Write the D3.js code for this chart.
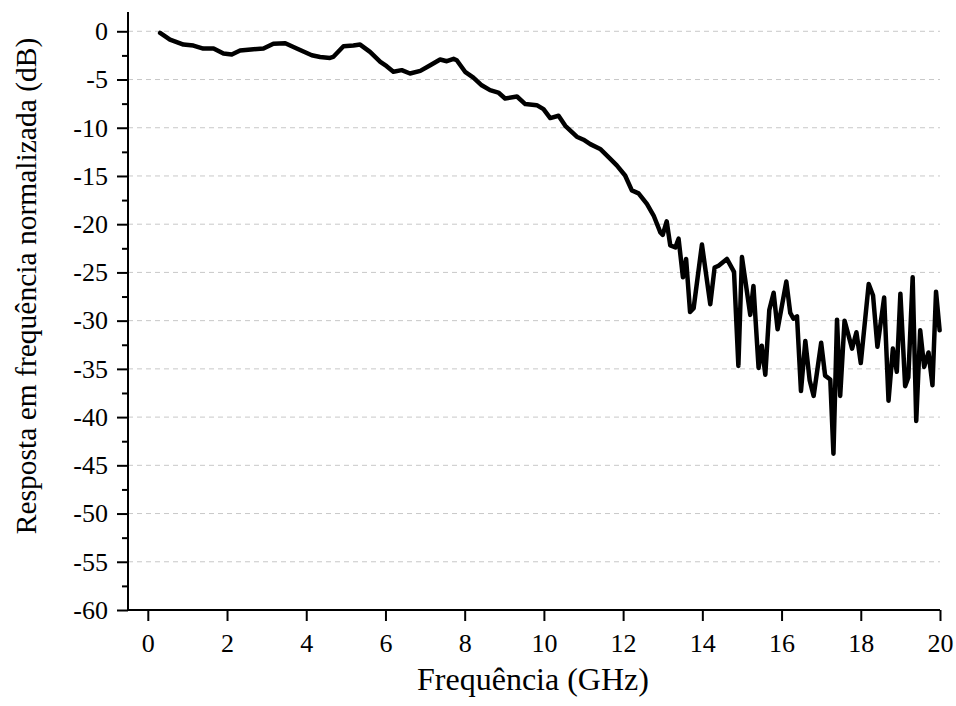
<!DOCTYPE html>
<html>
<head>
<meta charset="utf-8">
<script src="https://cdn.jsdelivr.net/npm/d3@7"></script>
<style>
  body { margin: 0; background: #fff; }
  svg text { font-family: "Liberation Serif", "Times New Roman", serif; fill: #000; }
</style>
</head>
<body>
<svg id="chart" width="956" height="706"></svg>
<script>
// frequency (GHz) and normalized response (dB)
var freq = [0.31, 0.56, 0.90, 1.15, 1.40, 1.66, 1.91, 2.12, 2.33, 2.67, 2.92, 3.17, 3.47, 3.76,
  4.14, 4.35, 4.60, 4.68, 4.94, 5.19, 5.36, 5.61, 5.87, 6.03, 6.20, 6.41, 6.62, 6.88, 7.13,
  7.38, 7.55, 7.72, 7.80, 8.01, 8.22, 8.43, 8.64, 8.85, 9.02, 9.32, 9.53, 9.82, 9.99, 10.16,
  10.37, 10.54, 10.83, 11.00, 11.17, 11.42, 11.67, 11.84, 12.05, 12.22, 12.39, 12.60, 12.77,
  12.94, 13.00, 13.10, 13.19, 13.32, 13.40, 13.51, 13.59, 13.69, 13.78, 13.99, 14.20, 14.31,
  14.41, 14.62, 14.80, 14.91, 15.00, 15.21, 15.29, 15.42, 15.50, 15.59, 15.69, 15.80, 15.90,
  16.12, 16.22, 16.30, 16.39, 16.49, 16.60, 16.71, 16.81, 17.00, 17.10, 17.23, 17.31, 17.40,
  17.48, 17.59, 17.78, 17.89, 18.00, 18.20, 18.31, 18.42, 18.59, 18.70, 18.81, 18.91, 19.00,
  19.12, 19.20, 19.31, 19.40, 19.50, 19.60, 19.71, 19.81, 19.90, 19.99];

var response = [-0.17, -0.86, -1.38, -1.48, -1.79, -1.79, -2.31, -2.41, -2.0, -1.86, -1.79, -1.3, -1.24, -1.79,
  -2.48, -2.66, -2.76, -2.66, -1.55, -1.48, -1.38, -2.14, -3.17, -3.62, -4.2, -4.03, -4.38, -4.1, -3.52,
  -2.93, -3.1, -2.86, -3.0, -4.2, -4.8, -5.6, -6.1, -6.35, -6.97, -6.76, -7.55, -7.66, -8.07, -9.0,
  -8.76, -9.8, -10.93, -11.24, -11.7, -12.2, -13.2, -13.9, -14.95, -16.5, -16.8, -17.9, -19.1,
  -20.85, -21.1, -19.7, -22.2, -22.4, -21.5, -25.5, -23.6, -29.1, -28.7, -22.1, -28.3, -24.5,
  -24.3, -23.6, -24.95, -34.7, -23.4, -29.4, -26.4, -34.9, -32.6, -35.6, -28.9, -27.1, -30.9,
  -25.95, -29.2, -29.8, -29.55, -37.3, -32.1, -36.2, -37.8, -32.3, -35.7, -36.1, -43.8, -29.9,
  -37.8, -30.0, -32.9, -31.2, -34.4, -26.2, -27.4, -32.7, -27.6, -38.3, -32.9, -35.3, -27.2,
  -36.8, -35.9, -25.5, -40.4, -31.0, -34.8, -33.3, -36.7, -27.0, -31.0];

var xTicks = [0, 2, 4, 6, 8, 10, 12, 14, 16, 18, 20];
var yTicks = [0, -5, -10, -15, -20, -25, -30, -35, -40, -45, -50, -55, -60];
var yMinorTicks = [-2.5, -7.5, -12.5, -17.5, -22.5, -27.5, -32.5, -37.5, -42.5, -47.5, -52.5, -57.5];

var svg = d3.select("#chart");
var mLeft = 128, mRight = 940, mTop = 12, mBottom = 610;

var x = d3.scaleLinear().domain([-0.5, 20]).range([mLeft, mRight]);
var y = d3.scaleLinear().domain([-60, 2]).range([mBottom, mTop]);

// plain hyphen for negatives, like the original
var fmt = function(d) { return String(d); };

// grid
svg.append("g").selectAll("line")
  .data(yTicks.filter(function(d) { return d > -60; }))
  .enter().append("line")
    .attr("x1", mLeft).attr("x2", mRight)
    .attr("y1", function(d) { return y(d); })
    .attr("y2", function(d) { return y(d); })
    .attr("stroke", "#c8c8c8")
    .attr("stroke-width", 1)
    .attr("stroke-dasharray", "5,4");

// axes
var xAxis = svg.append("g")
    .attr("transform", "translate(0," + mBottom + ")")
    .call(d3.axisBottom(x).tickValues(xTicks).tickSize(11).tickPadding(13).tickFormat(fmt));

var yAxis = svg.append("g")
    .attr("transform", "translate(" + mLeft + ",0)")
    .call(d3.axisLeft(y).tickValues(yTicks).tickSize(11).tickPadding(9).tickFormat(fmt));

svg.append("g")
    .attr("transform", "translate(" + mLeft + ",0)")
    .call(d3.axisLeft(y).tickValues(yMinorTicks).tickSize(6).tickFormat(""))
    .call(function(g) { g.select(".domain").remove(); })
    .selectAll("line").attr("stroke-width", 2);

[xAxis, yAxis].forEach(function(g) {
  g.attr("font-family", null).attr("font-size", 26);
  g.select(".domain").attr("stroke-width", 2);
  g.selectAll(".tick line").attr("stroke-width", 2);
  g.selectAll(".tick text")
    .attr("font-size", 26)
    .style("font-size", "26px");
});
xAxis.select(".domain").attr("d", "M" + mLeft + ",0H" + mRight);
yAxis.select(".domain").attr("d", "M0," + mTop + "V" + mBottom);

// line
var data = freq.map(function(f, i) { return [f, response[i]]; });
var line = d3.line()
    .x(function(d) { return x(d[0]); })
    .y(function(d) { return y(d[1]); });

svg.append("path")
    .datum(data)
    .attr("d", line)
    .attr("fill", "none")
    .attr("stroke", "#000")
    .attr("stroke-width", 4.5)
    .attr("stroke-linejoin", "round")
    .attr("stroke-linecap", "round");

// titles
svg.append("text")
    .attr("x", 533)
    .attr("y", 690)
    .attr("text-anchor", "middle")
    .style("font-size", "32px")
    .text("Frequência (GHz)");

svg.append("text")
    .attr("transform", "translate(36,286) rotate(-90)")
    .attr("text-anchor", "middle")
    .style("font-size", "29.5px")
    .text("Resposta em frequência normalizada (dB)");
</script>
</body>
</html>
